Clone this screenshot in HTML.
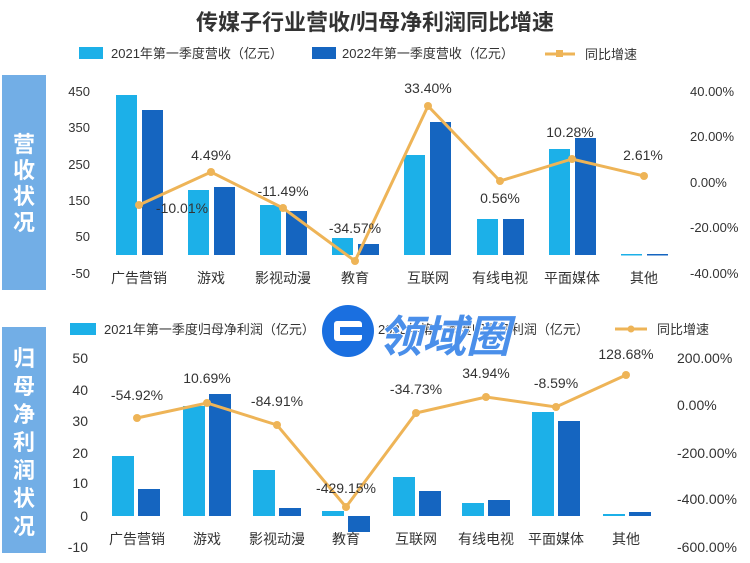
<!DOCTYPE html>
<html><head><meta charset="utf-8"><style>
body{margin:0;background:#fff;}
svg{display:block;font-family:"Liberation Sans","Noto Sans CJK SC",sans-serif;}
</style></head><body>
<svg width="750" height="563" viewBox="0 0 750 563" xmlns="http://www.w3.org/2000/svg">
<rect width="750" height="563" fill="#fff"/>
<text x="375" y="30" text-anchor="middle" font-size="22" font-weight="bold" fill="#333">传媒子行业营收/归母净利润同比增速</text>

<!-- side panels -->
<rect x="2" y="75" width="44" height="215" fill="#72aee6"/>
<g fill="#fff" font-size="22" font-weight="bold" text-anchor="middle">
<text x="24" y="152">营</text><text x="24" y="178">收</text><text x="24" y="204">状</text><text x="24" y="230">况</text>
</g>
<rect x="2" y="327" width="44" height="226" fill="#72aee6"/>
<g fill="#fff" font-size="22" font-weight="bold" text-anchor="middle">
<text x="24" y="366">归</text><text x="24" y="394">母</text><text x="24" y="422">净</text><text x="24" y="450">利</text><text x="24" y="478">润</text><text x="24" y="506">状</text><text x="24" y="534">况</text>
</g>

<!-- top legend -->
<rect x="79" y="47" width="24" height="12" fill="#1cb0e8"/>
<text x="111" y="58" font-size="13" fill="#333">2021年第一季度营收（亿元）</text>
<rect x="312" y="47" width="24" height="12" fill="#1565c0"/>
<text x="342" y="58" font-size="13" fill="#333">2022年第一季度营收（亿元）</text>
<line x1="545" y1="54" x2="575" y2="54" stroke="#eeb457" stroke-width="3"/>
<rect x="556" y="50" width="7" height="7" fill="#eeb457"/>
<text x="585" y="59" font-size="13" fill="#333">同比增速</text>

<!-- top axes -->
<g font-size="13" fill="#333" text-anchor="end">
<text x="90" y="96">450</text><text x="90" y="132">350</text><text x="90" y="169">250</text><text x="90" y="205">150</text><text x="90" y="241">50</text><text x="90" y="278">-50</text>
</g>
<g font-size="13" fill="#333">
<text x="690" y="96">40.00%</text><text x="690" y="141">20.00%</text><text x="690" y="187">0.00%</text><text x="690" y="232">-20.00%</text><text x="690" y="278">-40.00%</text>
</g>
<!-- top bars: zero y=255, 0.364px/unit -->
<g fill="#1cb0e8">
<rect x="116" y="95" width="21" height="160"/>
<rect x="188" y="190" width="21" height="65"/>
<rect x="260" y="205" width="21" height="50"/>
<rect x="332" y="238" width="21" height="17"/>
<rect x="404" y="155" width="21" height="100"/>
<rect x="477" y="219" width="21" height="36"/>
<rect x="549" y="149" width="21" height="106"/>
<rect x="621" y="254" width="21" height="1.5"/>
</g>
<g fill="#1565c0">
<rect x="142" y="110" width="21" height="145"/>
<rect x="214" y="187" width="21" height="68"/>
<rect x="286" y="211" width="21" height="44"/>
<rect x="358" y="244" width="21" height="11"/>
<rect x="430" y="122" width="21" height="133"/>
<rect x="503" y="219" width="21" height="36"/>
<rect x="575" y="138" width="21" height="117"/>
<rect x="647" y="254" width="21" height="1.5"/>
</g>
<polyline points="139,205 211,172 283,208 355,261 428,106 500,181 572,159 644,176" fill="none" stroke="#eeb457" stroke-width="3"/>
<g fill="#eeb457">
<circle cx="139" cy="205" r="4"/><circle cx="211" cy="172" r="4"/><circle cx="283" cy="208" r="4"/><circle cx="355" cy="261" r="4"/><circle cx="428" cy="106" r="4"/><circle cx="500" cy="181" r="4"/><circle cx="572" cy="159" r="4"/><circle cx="644" cy="176" r="4"/>
</g>
<g font-size="14" fill="#333" text-anchor="middle">
<text x="182" y="213">-10.01%</text><text x="211" y="160">4.49%</text><text x="283" y="196">-11.49%</text><text x="355" y="233">-34.57%</text><text x="428" y="93">33.40%</text><text x="500" y="203">0.56%</text><text x="570" y="137">10.28%</text><text x="643" y="160">2.61%</text>
</g>
<g font-size="14" fill="#333" text-anchor="middle">
<text x="139" y="283">广告营销</text><text x="211" y="283">游戏</text><text x="283" y="283">影视动漫</text><text x="355" y="283">教育</text><text x="428" y="283">互联网</text><text x="500" y="283">有线电视</text><text x="572" y="283">平面媒体</text><text x="644" y="283">其他</text>
</g>

<!-- bottom legend -->
<rect x="70" y="323" width="26" height="12" fill="#1cb0e8"/>
<text x="104" y="334" font-size="13" fill="#333">2021年第一季度归母净利润（亿元）</text>
<rect x="345" y="323" width="26" height="12" fill="#1565c0"/>
<text x="378" y="334" font-size="13" fill="#333">2022年第一季度归母净利润（亿元）</text>
<line x1="615" y1="329" x2="647" y2="329" stroke="#eeb457" stroke-width="3"/>
<circle cx="631" cy="329" r="3.5" fill="#eeb457"/>
<text x="657" y="334" font-size="13" fill="#333">同比增速</text>

<!-- watermark -->
<circle cx="348" cy="331" r="26" fill="#1a6fe0"/>
<rect x="334" y="321" width="28" height="20" rx="3" fill="#fff"/>
<rect x="340" y="327" width="22" height="8" fill="#1a6fe0"/>
<text x="378" y="352" font-size="44" font-weight="bold" font-style="italic" fill="#4a8fea" stroke="#fff" stroke-width="1.5" paint-order="stroke">领域圈</text>

<!-- bottom axes -->
<g font-size="14" fill="#333" text-anchor="end">
<text x="88" y="363">50</text><text x="88" y="395">40</text><text x="88" y="426">30</text><text x="88" y="458">20</text><text x="88" y="488">10</text><text x="88" y="521">0</text><text x="88" y="552">-10</text>
</g>
<g font-size="14" fill="#333">
<text x="677" y="363">200.00%</text><text x="677" y="410">0.00%</text><text x="677" y="458">-200.00%</text><text x="677" y="504">-400.00%</text><text x="677" y="552">-600.00%</text>
</g>
<!-- bottom bars: zero 516, 3.15px/unit -->
<g fill="#1cb0e8">
<rect x="112" y="456" width="22" height="60"/>
<rect x="183" y="406" width="22" height="110"/>
<rect x="253" y="470" width="22" height="46"/>
<rect x="322" y="511" width="22" height="5"/>
<rect x="393" y="477" width="22" height="39"/>
<rect x="462" y="503" width="22" height="13"/>
<rect x="532" y="412" width="22" height="104"/>
<rect x="603" y="514" width="22" height="2"/>
</g>
<g fill="#1565c0">
<rect x="138" y="489" width="22" height="27"/>
<rect x="209" y="394" width="22" height="122"/>
<rect x="279" y="508" width="22" height="8"/>
<rect x="348" y="516" width="22" height="16"/>
<rect x="419" y="491" width="22" height="25"/>
<rect x="488" y="500" width="22" height="16"/>
<rect x="558" y="421" width="22" height="95"/>
<rect x="629" y="512" width="22" height="4"/>
</g>
<polyline points="137,418 207,403 277,425 346,507 416,413 486,397 556,407 626,375" fill="none" stroke="#eeb457" stroke-width="3"/>
<g fill="#eeb457">
<circle cx="137" cy="418" r="4"/><circle cx="207" cy="403" r="4"/><circle cx="277" cy="425" r="4"/><circle cx="346" cy="507" r="4"/><circle cx="416" cy="413" r="4"/><circle cx="486" cy="397" r="4"/><circle cx="556" cy="407" r="4"/><circle cx="626" cy="375" r="4"/>
</g>
<g font-size="14" fill="#333" text-anchor="middle">
<text x="137" y="400">-54.92%</text><text x="207" y="383">10.69%</text><text x="277" y="406">-84.91%</text><text x="346" y="493">-429.15%</text><text x="416" y="394">-34.73%</text><text x="486" y="378">34.94%</text><text x="556" y="388">-8.59%</text><text x="626" y="359">128.68%</text>
</g>
<g font-size="14" fill="#333" text-anchor="middle">
<text x="137" y="544">广告营销</text><text x="207" y="544">游戏</text><text x="277" y="544">影视动漫</text><text x="346" y="544">教育</text><text x="416" y="544">互联网</text><text x="486" y="544">有线电视</text><text x="556" y="544">平面媒体</text><text x="626" y="544">其他</text>
</g>
</svg>
</body></html>
